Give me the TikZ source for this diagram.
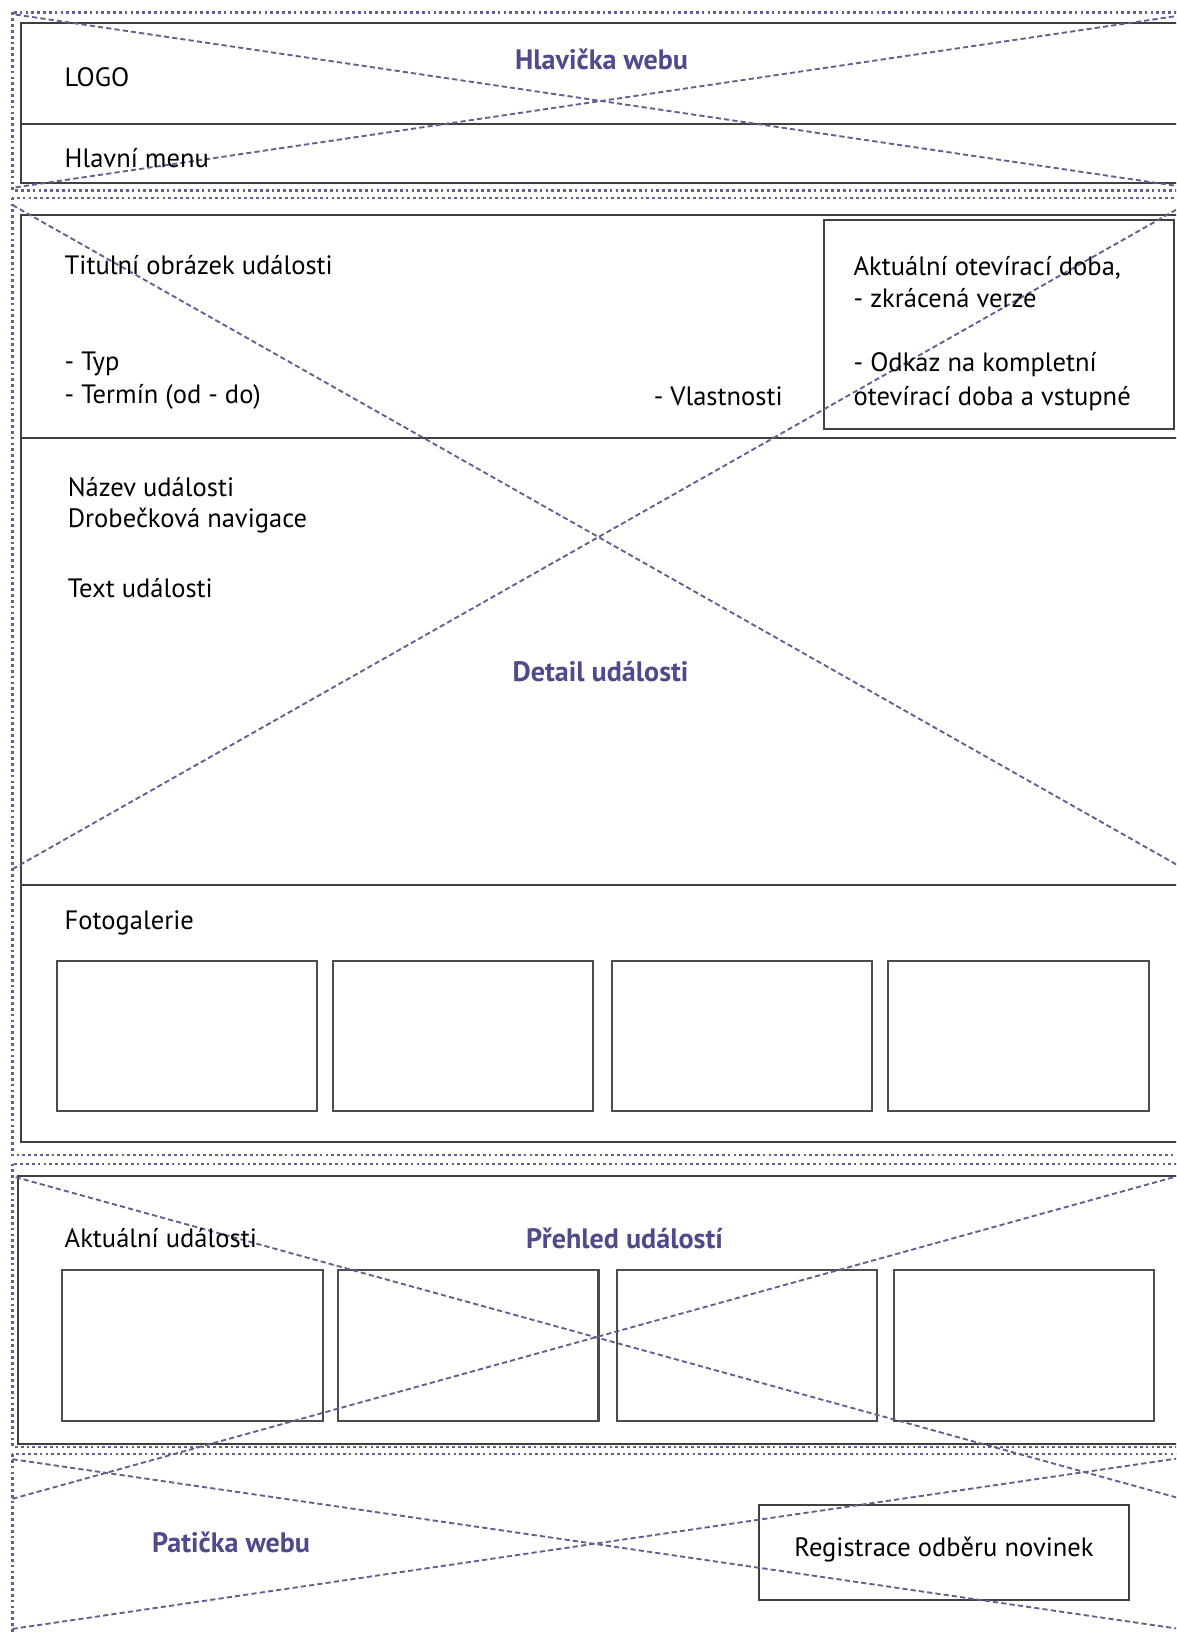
\documentclass[tikz,border=0pt]{standalone}
\usepackage{fontspec}
\setmainfont{PT Sans}
\usetikzlibrary{positioning}
\definecolor{plachold}{RGB}{98,96,146}
\definecolor{heading}{RGB}{78,74,140}

\begin{document}
\begin{tikzpicture}[%
  x=1pt,y=-1pt,
  dotframe/.style={draw=plachold,line width=2pt,dash pattern=on 2.6pt off 3pt},
  xline/.style={draw=plachold,line width=1.8pt,dash pattern=on 5pt off 3pt},
  box/.style={draw=black!75,line width=1.9pt},
  thumb/.style={draw=black!70,line width=2pt},
  txt/.style={anchor=west,inner sep=0pt,font=\fontsize{25.5}{30}\selectfont},
  hdr/.style={inner sep=0pt,text=heading,font=\fontsize{27}{32}\selectfont\bfseries}]
  \useasboundingbox (0,0) rectangle (1130,1568);
  \clip (0,0) rectangle (1130,1568);
    % Header
    \draw[dotframe] (12,12) rectangle (1145,183);
    \draw[box] (20,22) rectangle (1145,176);
    \draw[box] (20,119) -- (1145,119);
    \draw[xline] (15,14) -- (1140,180);
    \draw[xline] (15,180) -- (1140,14);
    \node[hdr] (hlavicka) at (578,57) {Hlavička webu};
    \node[txt] (logo) at (62,74) {LOGO};
    \node[txt] (menu) at (62,152) {Hlavní menu};
    % Detail
    \draw[dotframe] (12,190) rectangle (1145,1110);
    \draw[box] (20,207) rectangle (1145,1097);
    \draw[box] (20,421) -- (1145,421);
    \draw[box] (20,850) -- (1145,850);
    \draw[box] (792,211) rectangle (1128,412);
    \draw[thumb] (55,923) rectangle (305,1067);
    \draw[thumb] (320,923) rectangle (570,1067);
    \draw[thumb] (588,923) rectangle (838,1067);
    \draw[thumb] (853,923) rectangle (1104,1067);
    \draw[xline] (12,197) -- (1138,835);
    \draw[xline] (12,835) -- (1138,197);
    \node[txt] (titulni) at (62,255) {Titulní obrázek události};
    \node[txt] (typ) at (62,350) {- Typ};
    \node[txt] (termin) at (62,381) {- Termín (od - do)};
    \node[txt] (vlastnosti) at (628,381) {- Vlastnosti};
    \node[txt] (oteviraci) at (820,257) {Aktuální otevírací doba,};
    \node[txt] (zkracena) at (820,286) {- zkrácená verze};
    \node[txt] (odkaz) at (820,350) {- Odkaz na kompletní};
    \node[txt] (vstupne) at (820,383) {otevírací doba a vstupné};
    \node[txt] (nazev) at (65,468) {Název události};
    \node[txt] (drobecky) at (65,500) {Drobečková navigace};
    \node[txt] (text) at (65,565) {Text události};
    \node[hdr] (detail) at (577,645) {Detail události};
    \node[txt] (foto) at (62,887) {Fotogalerie};
    % Prehled
    \draw[dotframe] (12,1118) rectangle (1145,1390);
    \draw[box] (17,1130) rectangle (1145,1387);
    \draw[thumb] (60,1220) rectangle (310,1365);
    \draw[thumb] (325,1220) rectangle (575,1365);
    \draw[thumb] (593,1220) rectangle (843,1365);
    \draw[thumb] (859,1220) rectangle (1109,1365);
    \draw[xline] (15,1131) -- (1135,1440);
    \draw[xline] (12,1440) -- (1135,1129);
    \node[txt] (aktualni) at (62,1190) {Aktuální události};
    \node[hdr] (prehled) at (600,1190) {Přehled událostí};
    % Paticka
    \draw[dotframe] (12,1397) rectangle (1145,1600);
    \draw[box] (729,1446) rectangle (1085,1537);
    \draw[xline] (12,1402) -- (1140,1566);
    \draw[xline] (12,1565) -- (1140,1400);
    \node[hdr] (paticka) at (222,1482) {Patička webu};
    \node[txt] (registrace) at (907,1489) [anchor=center] {Registrace odběru novinek};
\end{tikzpicture}
\end{document}
